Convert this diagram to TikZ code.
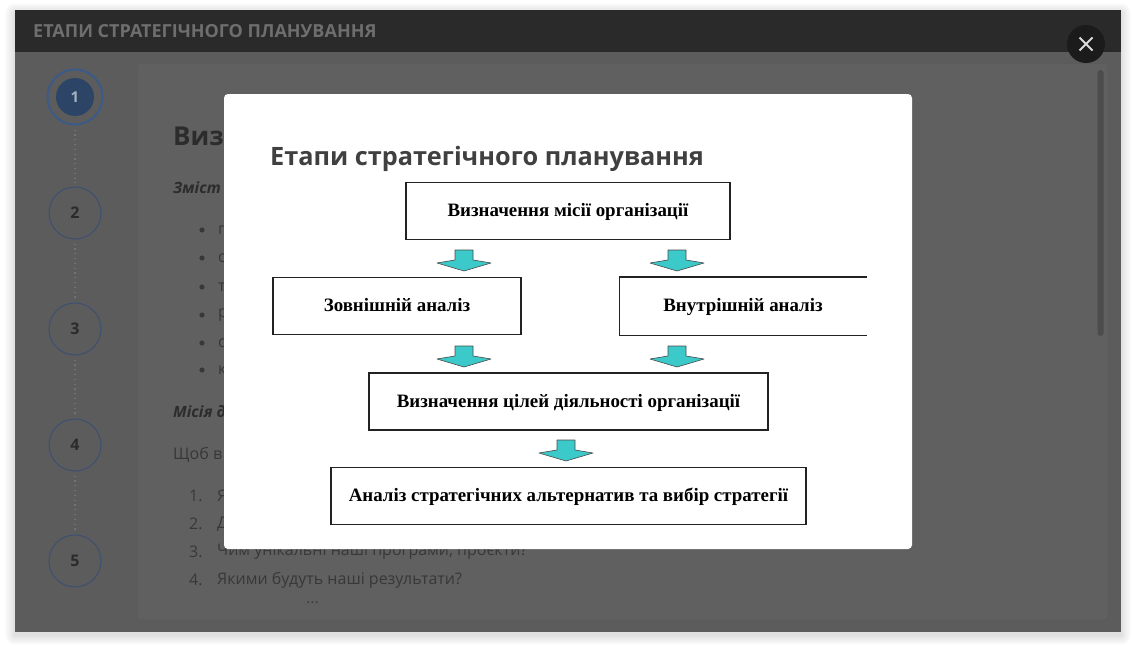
\documentclass[tikz,border=0pt]{standalone}
\usepackage{fontspec}
\setmainfont{Liberation Serif}
\newfontfamily\uifont{Open Sans}
\usetikzlibrary{positioning}

\definecolor{headbar}{HTML}{2A2A2A}
\definecolor{headtext}{HTML}{6E6E6E}
\definecolor{dimbg}{HTML}{5C5C5C}
\definecolor{cardbg}{HTML}{606060}
\definecolor{cardline}{HTML}{585858}
\definecolor{pagetext}{HTML}{383838}
\definecolor{pagehead}{HTML}{2C2C2C}
\definecolor{stepring}{HTML}{3C5071}
\definecolor{stepactive}{HTML}{3B5A8A}
\definecolor{stepfill}{HTML}{2C4466}
\definecolor{stepnum}{HTML}{2B2B2B}
\definecolor{closebg}{HTML}{1B1B1B}
\definecolor{titletext}{HTML}{404040}
\definecolor{boxline}{HTML}{222222}
\definecolor{flowfill}{HTML}{3CC9C9}
\definecolor{flowline}{HTML}{4A4A4A}

\tikzset{
  flow/.pic={
    \draw[fill=flowfill, draw=flowline, line width=0.6pt, line join=round]
      (-9,0) -- (9,0) -- (9,10) -- (27,13) -- (0,21) -- (-27,13) -- (-9,10) -- cycle;
  }
}

\begin{document}
\begin{tikzpicture}[x=1pt, y=-1pt,
    stage/.style={draw=boxline, line width=1.5pt, minimum height=57pt, inner sep=0pt,
      text height=12pt, text depth=1pt, font=\fontsize{18.9}{21}\selectfont\bfseries},
    stepno/.style={circle, draw=stepring, line width=1pt, minimum size=52pt, inner sep=0pt,
      text=stepnum, font=\uifont\fontsize{16}{18}\selectfont\bfseries},
    trail/.style={draw=black!55, line width=1.2pt, dash pattern=on 1.2pt off 3.6pt},
    bgtext/.style={anchor=west, inner sep=0pt, text=pagetext, font=\uifont\fontsize{16}{19}\selectfont},
    bgbold/.style={bgtext, text=pagehead, font=\uifont\fontsize{15.5}{18}\selectfont\bfseries\itshape}
  ]
  \useasboundingbox (0,0) rectangle (1136,653);
  \fill[white] (0,0) rectangle (1136,653);

  % window shadow
  \foreach \s in {1,...,10}
    \fill[black, opacity=0.012, rounded corners=\s pt] (15-\s,10-\s+3) rectangle (1121+\s,632+\s+3);

  % window
  \fill[dimbg] (15,10) rectangle (1121,632);
  \fill[headbar] (15,10) rectangle (1121,52);
  \node[anchor=west, inner sep=0pt, text=headtext, font=\uifont\fontsize{18}{20}\selectfont\bfseries]
    (head) at (33,31) {ЕТАПИ СТРАТЕГІЧНОГО ПЛАНУВАННЯ};

  % content card
  \draw[cardline, fill=cardbg, rounded corners=3pt] (137.5,63.5) rectangle (1108,620);
  \fill[black!70, rounded corners=3pt] (1097.5,70) rectangle (1103.5,336);

  % steps
  \foreach \n/\y in {2/213,3/329,4/445,5/561}
    \node[stepno] (s\n) at (75,\y) {\n};
  \node[circle, draw=stepactive, line width=2pt, minimum size=55pt, inner sep=0pt] (s1) at (75,97) {};
  \node[circle, fill=stepfill, minimum size=38pt, inner sep=0pt, text=stepring!45!white,
    font=\uifont\fontsize{15}{18}\selectfont\bfseries] (s1in) at (s1) {1};
  \foreach \a/\b in {1/2,2/3,3/4,4/5}
    \draw[trail] ([yshift=-4pt]s\a.south) -- ([yshift=4pt]s\b.north);

  % page text behind the dialog
  \node[bgtext, text=pagehead, font=\uifont\fontsize{26}{30}\selectfont\bfseries] (h1) at (173,136) {Виз};
  \node[bgbold] (h2) at (173,188) {Зміст};
  \foreach \y/\c [count=\i] in {230/п,258/с,287/т,315/р,343/с,370/к} {
    \fill[pagetext] (202,\y) circle (2.6pt);
    \node[bgtext] (b\i) at (218,\y) {\c};
  }
  \node[bgbold] (h3) at (173,412) {Місія д};
  \node[bgtext] (p1) at (173,455) {Щоб в};
  \foreach \y/\t [count=\i] in {496/Я,524/Д,552/{Чим унікальні наші програми, проєкти?},580/{Якими будуть наші результати?}} {
    \node[bgtext] (n\i) at (189,\y) {\i.};
    \node[bgtext] (l\i) at (217,\y) {\t};
  }
  \node[bgtext, text=pagetext!80!dimbg] (more) at (306,603) {...};

  % close button
  \node[circle, fill=closebg, minimum size=38pt, inner sep=0pt] (close) at (1086,44) {};
  \draw[white!85!black, line width=2pt]
    ([shift={(-6.5,-6.5)}]close.center) -- ([shift={(6.5,6.5)}]close.center)
    ([shift={(-6.5,6.5)}]close.center) -- ([shift={(6.5,-6.5)}]close.center);

  % dialog
  \fill[white, rounded corners=4pt] (224,94) rectangle (912,549);
  \node[anchor=west, inner sep=0pt, text=titletext, font=\uifont\fontsize{25.3}{29}\selectfont\bfseries]
    (title) at (270,159) {Етапи стратегічного планування};

  \node[stage, minimum width=324pt] (mission) at (568,211) {Визначення місії організації};
  \node[stage, minimum width=248pt] (outer) at (397,306) {Зовнішній аналіз};
  \node[stage, draw=none, minimum width=246pt] (inner) at (743,306) {Внутрішній аналіз};
  \draw[boxline, line width=1.5pt] (inner.north east) -- (inner.north west) -- (inner.south west) -- (inner.south east);
  \node[stage, minimum width=399pt] (goals) at (568.5,401.5) {Визначення цілей діяльності організації};
  \node[stage, minimum width=475pt] (choice) at (568.5,496) {Аналіз стратегічних альтернатив та вибір стратегії};

  \pic (f1) at (464,250) {flow};
  \pic (f2) at (677,250) {flow};
  \pic (f3) at (464,346) {flow};
  \pic (f4) at (677,346) {flow};
  \pic (f5) at (566,440) {flow};
\end{tikzpicture}
\end{document}
